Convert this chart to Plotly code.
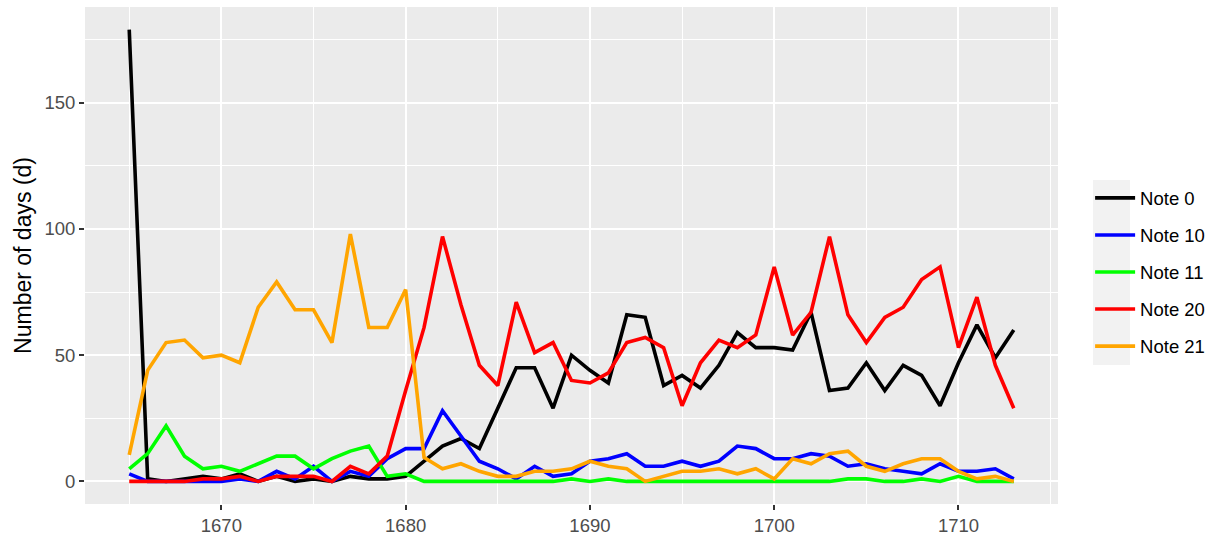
import plotly.graph_objects as go

years = list(range(1665, 1714))

note0 = [179, 1, 0, 1, 2, 1, 3, 0, 2, 0, 1, 0, 2, 1, 1, 2,
         8, 14, 17, 13, 29, 45, 45, 29, 50, 44, 39, 66, 65, 38, 42, 37, 46,
         59, 53, 53, 52, 67, 36, 37, 47, 36, 46, 42, 30, 47, 62, 49, 60]
note10 = [3, 0, 0, 0, 0, 0, 1, 0, 4, 1, 6, 0, 4, 2, 9, 13,
          13, 28, 18, 8, 5, 1, 6, 2, 3, 8, 9, 11, 6, 6, 8, 6, 8,
          14, 13, 9, 9, 11, 10, 6, 7, 5, 4, 3, 7, 4, 4, 5, 1]
note11 = [5, 11, 22, 10, 5, 6, 4, 7, 10, 10, 5, 9, 12, 14, 2, 3,
          0, 0, 0, 0, 0, 0, 0, 0, 1, 0, 1, 0, 0, 0, 0, 0, 0,
          0, 0, 0, 0, 0, 0, 1, 1, 0, 0, 1, 0, 2, 0, 0, 0]
note20 = [0, 0, 0, 0, 1, 1, 2, 0, 2, 2, 2, 0, 6, 3, 10, 36,
          61, 97, 70, 46, 38, 71, 51, 55, 40, 39, 43, 55, 57, 53, 30, 47, 56,
          53, 58, 85, 58, 67, 97, 66, 55, 65, 69, 80, 85, 53, 73, 46, 29]
note21 = [10.5, 44, 55, 56, 49, 50, 47, 69, 79, 68, 68, 55, 98, 61, 61, 76,
          9.5, 5, 7, 4, 2, 2, 4, 4, 5, 8, 6, 5, 0, 2, 4, 4, 5,
          3, 5, 1, 9, 7, 11, 12, 6, 4, 7, 9, 9, 4, 1, 2, 0]

series = [("Note 0", note0, "#000000"),
          ("Note 10", note10, "#0000FF"),
          ("Note 11", note11, "#00FF00"),
          ("Note 20", note20, "#FF0000"),
          ("Note 21", note21, "#FFA500")]

y_ticks = [0, 50, 100, 150]
x_ticks = [1670, 1680, 1690, 1700, 1710]

fig = go.Figure()
for i, (name, vals, col) in enumerate(series):
    fig.add_trace(go.Scatter(x=years, y=vals, mode="lines", name=name,
                             legendgroup=f"g{i}",
                             line=dict(color=col, width=3.6)))

font_family = "Liberation Sans, Arial, sans-serif"
ymax = 179
xr = [1665 - 48 * 0.05, 1713 + 48 * 0.05]
yr = [-ymax * 0.05, ymax * 1.05]

fig.update_layout(
    width=1219, height=536,
    margin=dict(l=85, r=161, t=7, b=32, autoexpand=False),
    paper_bgcolor="white",
    plot_bgcolor="#EBEBEB",
    font=dict(family=font_family, size=18.5, color="#000000"),
    showlegend=True,
    legend=dict(x=1.033, xanchor="left", y=0.466, yanchor="middle",
                bgcolor="rgba(0,0,0,0)", font=dict(size=18.5, color="#000000"),
                traceorder="grouped", tracegroupgap=10, itemwidth=40),
    xaxis=dict(range=xr, tickvals=x_ticks, ticktext=[str(v) for v in x_ticks],
               showgrid=True, gridcolor="white", gridwidth=2.2,
               minor=dict(tickvals=[1665, 1675, 1685, 1695, 1705, 1715],
                          showgrid=True, gridcolor="white", gridwidth=1.1),
               ticks="outside", ticklen=5, tickcolor="#333333", tickwidth=2,
               tickfont=dict(size=18.5, color="#4D4D4D"),
               zeroline=False, showline=False, automargin=False),
    yaxis=dict(range=yr, tickvals=y_ticks, ticktext=[str(v) for v in y_ticks],
               showgrid=True, gridcolor="white", gridwidth=2.2,
               minor=dict(tickvals=[25, 75, 125, 175],
                          showgrid=True, gridcolor="white", gridwidth=1.1),
               ticks="outside", ticklen=5, tickcolor="#333333", tickwidth=2,
               tickfont=dict(size=18.5, color="#4D4D4D"),
               title=dict(text="Number of days (d)", font=dict(size=23, color="#000000"),
                          standoff=6),
               zeroline=False, showline=False, automargin=False),
)

fig.add_shape(type="rect", xref="paper", yref="paper",
              x0=(1093 - 85) / 973, x1=(1130 - 85) / 973,
              y0=(504 - 365) / 497, y1=(504 - 180) / 497,
              fillcolor="#F2F2F2", line=dict(width=0), layer="below")

fig.write_html("out.html", config={"displayModeBar": False},
               post_script="document.body.style.margin='0';")
